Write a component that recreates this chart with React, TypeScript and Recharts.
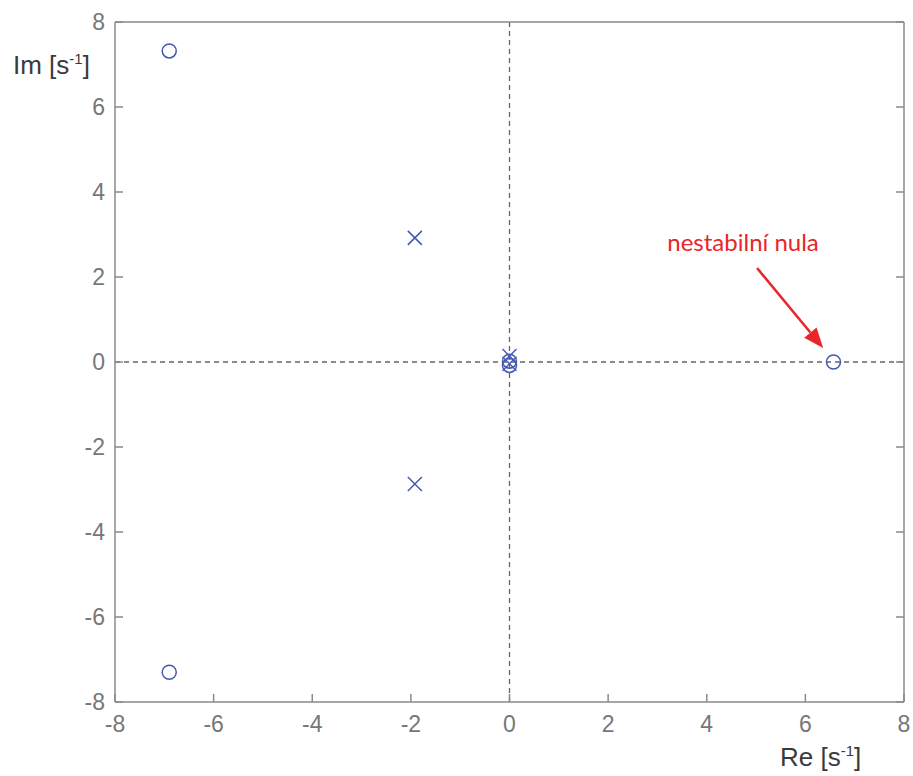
import React from 'react';
import { ScatterChart, Scatter, XAxis, YAxis, ReferenceLine } from 'recharts';

// axis ticks (both axes)
const axisTicks = [-8, -6, -4, -2, 0, 2, 4, 6, 8];

// zeros (o)
const zerosRe = [-6.9, -6.9, 6.57, 0, 0];
const zerosIm = [7.32, -7.3, 0, 0.02, -0.08];

// poles (x)
const polesRe = [-1.92, -1.92, 0, 0];
const polesIm = [2.92, -2.87, 0.14, -0.04];

// annotation arrow (start -> tip), data coords
const arrowFrom = { x: 5.02, y: 2.21 };
const arrowTo = { x: 6.36, y: 0.33 };
const annotationText = 'nestabilní nula';

const zeros = zerosRe.map((re, i) => ({ re, im: zerosIm[i] }));
const poles = polesRe.map((re, i) => ({ re, im: polesIm[i] }));

const MARK = '#4559b0';
const AXIS = '#8a8a8a';
const TICK_TEXT = '#777777';
const FONT = '"Liberation Sans", Arial, sans-serif';

const CircleShape = (p: any) => (
  <circle cx={p.cx} cy={p.cy} r={7} fill="none" stroke={MARK} strokeWidth={1.5} />
);

const CrossShape = (p: any) => {
  const s = 7;
  return (
    <g stroke={MARK} strokeWidth={1.5}>
      <line x1={p.cx - s} y1={p.cy - s} x2={p.cx + s} y2={p.cy + s} />
      <line x1={p.cx - s} y1={p.cy + s} x2={p.cx + s} y2={p.cy - s} />
    </g>
  );
};

const ArrowShape = (p: any) => {
  const { x1, y1, x2, y2 } = p;
  const dx = x2 - x1;
  const dy = y2 - y1;
  const len = Math.sqrt(dx * dx + dy * dy);
  const ux = dx / len;
  const uy = dy / len;
  const headLen = 20;
  const headW = 8;
  const bx = x2 - ux * headLen;
  const by = y2 - uy * headLen;
  return (
    <g>
      <line x1={x1} y1={y1} x2={bx} y2={by} stroke="#e8262a" strokeWidth={2.5} />
      <polygon
        points={`${x2},${y2} ${bx - uy * headW},${by + ux * headW} ${bx + uy * headW},${by - ux * headW}`}
        fill="#e8262a"
      />
      <text
        x={x1 - 14}
        y={y1 - 17}
        textAnchor="middle"
        fill="#e8262a"
        fontSize={24}
        fontFamily="Lato, 'Open Sans', sans-serif"
      >
        {annotationText}
      </text>
    </g>
  );
};

export default function App() {
  const tickStyle = { fill: TICK_TEXT, fontSize: 23, fontFamily: FONT };
  const line = { stroke: AXIS, strokeWidth: 1.5 };
  return (
    <div style={{ position: 'absolute', left: 0, top: 0, width: 913, height: 776, background: '#fff' }}>
      <ScatterChart width={913} height={776} margin={{ top: 21, right: 8, bottom: 73, left: 114 }}>
        <XAxis
          type="number"
          dataKey="re"
          domain={[-8, 8]}
          ticks={axisTicks}
          interval={0}
          height={1}
          tickSize={-8}
          tickMargin={22}
          tick={tickStyle}
          axisLine={line}
          tickLine={line}
          allowDataOverflow
        />
        <YAxis
          type="number"
          dataKey="im"
          domain={[-8, 8]}
          ticks={axisTicks}
          interval={0}
          width={1}
          tickSize={-8}
          tickMargin={18}
          tick={tickStyle}
          axisLine={line}
          tickLine={line}
          allowDataOverflow
        />
        <XAxis
          xAxisId="top"
          orientation="top"
          type="number"
          domain={[-8, 8]}
          ticks={axisTicks}
          interval={0}
          height={1}
          tickSize={-8}
          tickFormatter={() => ''}
          axisLine={line}
          tickLine={line}
          allowDataOverflow
        />
        <YAxis
          yAxisId="right"
          orientation="right"
          type="number"
          domain={[-8, 8]}
          ticks={axisTicks}
          interval={0}
          width={1}
          tickSize={-8}
          tickFormatter={() => ''}
          axisLine={line}
          tickLine={line}
          allowDataOverflow
        />
        <ReferenceLine x={0} stroke="#666" strokeWidth={1.3} strokeDasharray="5 4" />
        <ReferenceLine y={0} stroke="#666" strokeWidth={1.3} strokeDasharray="5 4" />
        <Scatter data={zeros} shape={CircleShape} isAnimationActive={false} />
        <Scatter data={poles} shape={CrossShape} isAnimationActive={false} />
        <ReferenceLine segment={[arrowFrom, arrowTo]} shape={ArrowShape} />
      </ScatterChart>
      <svg
        width={913}
        height={776}
        style={{ position: 'absolute', left: 0, top: 0, pointerEvents: 'none' }}
      >
        <text x={13} y={74} fontSize={26} fontFamily={FONT} fill="#3a3a3a">
          Im [s<tspan fontSize={15} dy={-10}>-1</tspan><tspan dy={10}>]</tspan>
        </text>
        <text x={780} y={766} fontSize={26} fontFamily={FONT} fill="#3a3a3a">
          Re [s<tspan fontSize={15} dy={-10}>-1</tspan><tspan dy={10}>]</tspan>
        </text>
      </svg>
    </div>
  );
}
